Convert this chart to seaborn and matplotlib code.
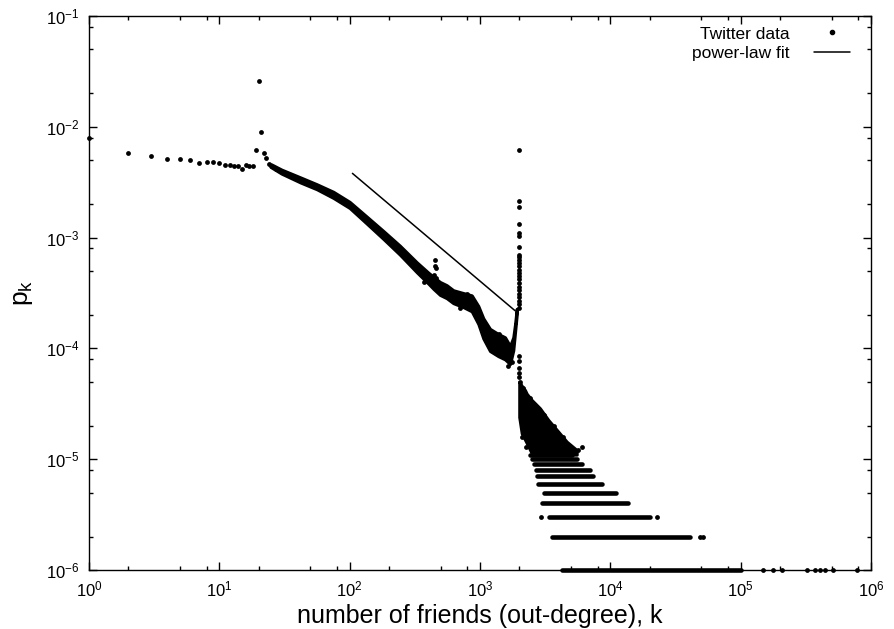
import numpy as np
import pandas as pd
import matplotlib
matplotlib.use("Agg")
import matplotlib.pyplot as plt
import matplotlib.ticker as mticker
import seaborn as sns

# --- data ------------------------------------------------------------------
# single points at low degree (k = 1 .. 24)
low_k = [1, 2, 3, 4, 5, 6, 7, 8, 9, 10, 11, 12, 13, 14, 15, 16, 17, 18,
         19, 20, 21, 22, 23, 24]
low_p = [8.0e-3, 5.83e-3, 5.48e-3, 5.08e-3, 5.1e-3, 5.0e-3, 4.74e-3, 4.8e-3,
         4.78e-3, 4.7e-3, 4.55e-3, 4.55e-3, 4.45e-3, 4.4e-3, 4.19e-3, 4.55e-3,
         4.4e-3, 4.45e-3, 6.2e-3, 2.6e-2, 8.9e-3, 5.8e-3, 5.2e-3, 4.65e-3]

# dense band of points between k = 25 and the 2000 limit (lower / upper edge)
band_k = [25, 30, 42, 56, 75, 100, 135, 181, 243, 327, 402, 440, 493, 555,
          624, 744, 864, 971, 1060, 1193, 1381, 1555, 1700, 1800, 1857, 1913]
band_lo = [4.31e-3, 3.78e-3, 3.14e-3, 2.73e-3, 2.28e-3, 1.85e-3, 1.34e-3,
           9.75e-4, 7.01e-4, 4.87e-4, 3.84e-4, 3.44e-4, 3.04e-4, 2.84e-4,
           2.56e-4, 2.36e-4, 2.16e-4, 1.66e-4, 1.23e-4, 9.47e-5, 8.51e-5,
           7.96e-5, 7.22e-5, 9.61e-5, 1.40e-4, 2.01e-4]
band_hi = [4.59e-3, 4.11e-3, 3.49e-3, 3.03e-3, 2.59e-3, 2.10e-3, 1.55e-3,
           1.15e-3, 8.45e-4, 5.99e-4, 4.82e-4, 4.42e-4, 3.98e-4, 3.72e-4,
           3.35e-4, 3.16e-4, 3.01e-4, 2.41e-4, 1.87e-4, 1.50e-4, 1.35e-4,
           1.26e-4, 1.05e-4, 1.26e-4, 1.65e-4, 2.28e-4]

# loose points around the band (bump near k = 450 and a few outliers)
extra_k = [25, 27, 33, 38, 47, 63, 88, 120, 160, 210, 290, 373, 445, 450,
           452, 456, 462, 520, 700, 800, 1400, 1650, 1750]
extra_p = [4.45e-3, 4.2e-3, 3.75e-3, 3.5e-3, 3.2e-3, 2.7e-3, 2.2e-3, 1.6e-3,
           1.25e-3, 9.0e-4, 6.3e-4, 4.0e-4, 4.6e-4, 5.5e-4, 6.3e-4, 5.3e-4,
           4.3e-4, 3.1e-4, 2.3e-4, 3.1e-4, 1.34e-4, 7.0e-5, 7.5e-5]

# column of points at the 2000-friends limit
spike_k = [2000, 1998, 2002, 1999, 2001, 2000, 1998, 2002, 1999, 2001, 2000,
           1998, 2002, 1999, 2001, 2000, 1998, 2002, 1999, 2001, 2000, 1998,
           2002, 1999, 2001, 2000, 1998, 2002, 2000]
spike_p = [6.2e-3, 2.15e-3, 1.9e-3, 1.33e-3, 1.09e-3, 1.03e-3, 8.3e-4, 7.0e-4,
           6.7e-4, 6.3e-4, 5.9e-4, 5.5e-4, 5.1e-4, 4.8e-4, 4.5e-4, 4.2e-4,
           3.9e-4, 3.6e-4, 3.4e-4, 3.1e-4, 2.9e-4, 2.7e-4, 2.5e-4, 2.3e-4,
           8.6e-5, 7.7e-5, 6.7e-5, 6.0e-5, 5.5e-5]

# dense cloud just above k = 2000 (lower / upper edge)
cloud_k = [2000, 2090, 2215, 2281, 2494, 2884, 3342, 3990, 4625, 5520]
cloud_lo = [2.4e-5, 1.71e-5, 1.5e-5, 1.4e-5, 1.13e-5, 1.1e-5, 1.1e-5, 1.1e-5,
            1.1e-5, 1.1e-5]
cloud_hi = [5.0e-5, 4.6e-5, 4.2e-5, 3.9e-5, 3.42e-5, 2.88e-5, 2.26e-5,
            1.77e-5, 1.44e-5, 1.21e-5]

cloud_pts_k = [2030, 2100, 2150, 2250, 2400, 2600, 3100, 3700, 4370, 5300,
               5600, 6100]
cloud_pts_p = [5.0e-5, 1.6e-5, 4.4e-5, 1.3e-5, 3.6e-5, 3.1e-5, 2.5e-5,
               2.0e-5, 1.6e-5, 1.2e-5, 1.2e-5, 1.3e-5]

# quantised rows (count / N) of the tail: level, first k, last k
row_p = [1.1e-5, 1.0e-5, 9e-6, 8e-6, 7e-6, 6e-6, 5e-6, 4e-6, 3e-6, 2e-6, 1e-6]
row_k0 = [2420, 2520, 2610, 2680, 2720, 2800, 3100, 2975, 3410, 3550, 4236]
row_k1 = [5060, 5520, 6030, 6980, 7400, 8700, 11000, 13700, 20200, 40800,
          100000]

# isolated points of the tail
tail_k = [2923, 23000, 48700, 51500, 149000, 178000, 206000, 321000, 372000,
          407000, 444000, 514000, 777000]
tail_p = [3e-6, 3e-6, 2e-6, 2e-6, 1e-6, 1e-6, 1e-6, 1e-6, 1e-6, 1e-6, 1e-6,
          1e-6, 1e-6]

# power-law fit end points
fit_k = [105, 1857]
fit_p = [3.8e-3, 2.19e-4]

x_major = [1e0, 1e1, 1e2, 1e3, 1e4, 1e5, 1e6]
y_major = [1e-6, 1e-5, 1e-4, 1e-3, 1e-2, 1e-1]

# --- style -------------------------------------------------------------------
sns.set_theme(style="ticks")
plt.rcParams["font.family"] = ["Liberation Sans", "DejaVu Sans"]
plt.rcParams.update({
    "axes.linewidth": 1.0,
    "axes.edgecolor": "black",
    "axes.labelcolor": "black",
    "xtick.color": "black",
    "ytick.color": "black",
    "text.color": "black",
})

fig = plt.figure(figsize=(8.95, 6.29), dpi=100)
ax = fig.add_axes([89 / 895, 59 / 629, 782 / 895, 554 / 629])

dot = dict(color="black", s=12, linewidth=0, marker="o", legend=False)

# dense parts
ax.fill_between(band_k, band_lo, band_hi, color="black", linewidth=2.2,
                edgecolor="black")
ax.fill_between(cloud_k, cloud_lo, cloud_hi, color="black", linewidth=2.2,
                edgecolor="black")
ax.hlines(row_p, row_k0, row_k1, colors="black", linewidth=3.3,
          capstyle="round", clip_on=False)

sns.scatterplot(x=low_k, y=low_p, ax=ax, clip_on=False, **dot)
sns.scatterplot(x=extra_k, y=extra_p, ax=ax, **dot)
sns.scatterplot(x=spike_k, y=spike_p, ax=ax, **dot)
sns.scatterplot(x=cloud_pts_k, y=cloud_pts_p, ax=ax, **dot)
sns.scatterplot(x=tail_k, y=tail_p, ax=ax, clip_on=False, **dot)

sns.lineplot(x=fit_k, y=fit_p, ax=ax, color="black", linewidth=1.1)

ax.set_xscale("log")
ax.set_yscale("log")
ax.set_xlim(1, 1e6)
ax.set_ylim(1e-6, 1e-1)

ax.xaxis.set_major_locator(mticker.FixedLocator(x_major))
ax.yaxis.set_major_locator(mticker.FixedLocator(y_major))
for axis in (ax.xaxis, ax.yaxis):
    axis.set_major_formatter(mticker.LogFormatterSciNotation())
    axis.set_minor_locator(mticker.LogLocator(base=10, subs=(2, 5, 8),
                                              numticks=20))
    axis.set_minor_formatter(mticker.NullFormatter())

ax.tick_params(which="both", direction="in", top=True, right=True,
               color="black", width=1.0)
ax.tick_params(which="major", length=6, labelsize=12, pad=7)
ax.tick_params(which="minor", length=3)

ax.set_xlabel("number of friends (out-degree), k", fontsize=18, labelpad=3)
ax.set_ylabel(r"p$_\mathregular{k}$", fontsize=19, labelpad=8)

# legend
handles = [
    plt.Line2D([], [], linestyle="none", marker="o", markersize=3,
               color="black"),
    plt.Line2D([], [], color="black", linewidth=1.1),
]
ax.legend(handles, ["Twitter data", "power-law fit"], loc="upper right",
          frameon=False, markerfirst=False, fontsize=12.5, handlelength=2.1,
          labelspacing=0.25, borderaxespad=0.4, borderpad=0.2,
          handletextpad=1.4, bbox_to_anchor=(0.987, 1.0))

plt.savefig("out.png", dpi=100)
